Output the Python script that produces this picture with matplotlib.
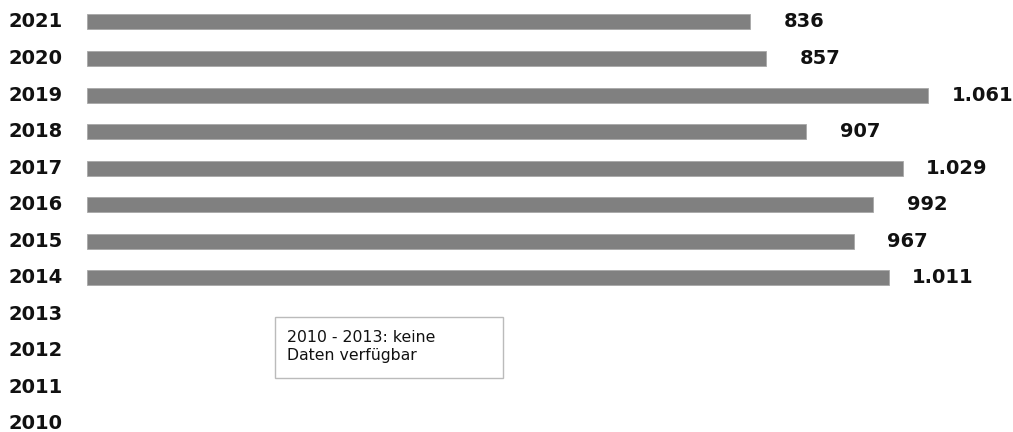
import numpy as np
import matplotlib.pyplot as plt
from matplotlib.patches import Rectangle
from matplotlib.transforms import blended_transform_factory

# Values per year (2010-2013: no data)
years = ['2021', '2020', '2019', '2018', '2017', '2016', '2015', '2014',
         '2013', '2012', '2011', '2010']
values = [836, 857, 1061, 907, 1029, 992, 967, 1011]
labels = ['836', '857', '1.061', '907', '1.029', '992', '967', '1.011']
note = '2010 - 2013: keine\nDaten verfügbar'

plt.rcParams['font.family'] = ['DejaVu Sans']

fig = plt.figure(figsize=(10.13, 4.32), dpi=100)
ax = fig.add_axes([87 / 1013, 0, 926 / 1013, 1])

y = np.arange(len(values))
ax.barh(y, values, height=0.41, color='#808080', edgecolor='#a8a8a8', linewidth=0.6)

for yi, v, lab in zip(y, values, labels):
    ax.annotate(lab, (v, yi), xytext=(54, 0), textcoords='offset pixels',
                ha='center', va='center', fontsize=14, fontweight='bold', color='#111111')

# year labels at the left edge of the figure
trans = blended_transform_factory(fig.transFigure, ax.transData)
for i, yr in enumerate(years):
    ax.text(9 / 1013, i, yr, transform=trans, fontsize=14,
            fontweight='bold', ha='left', va='center', color='#111111')

ax.set_xlim(0, 1168)
ax.set_ylim(11.22, -0.60)
ax.axis('off')

# note box
ax.add_patch(Rectangle((237, 8.06), 288, 1.67, facecolor='white',
                       edgecolor='#bbbbbb', linewidth=1))
ax.text(252, 8.88, note, fontsize=11.3, ha='left', va='center',
        color='#111111', linespacing=1.3)

fig.savefig('out.png', dpi=100)
